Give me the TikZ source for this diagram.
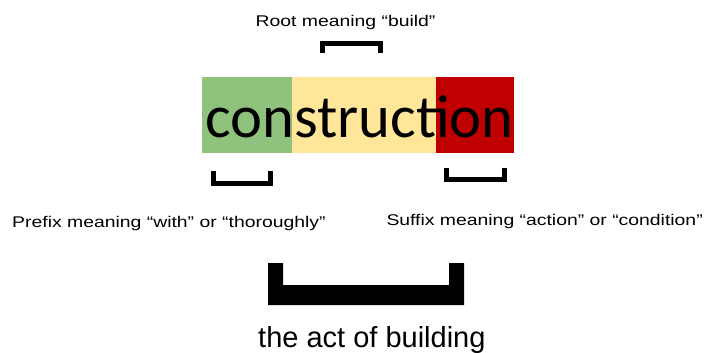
\documentclass[tikz,border=0pt]{standalone}
\usepackage{fontspec}
\setmainfont{Liberation Sans}
\newfontfamily\wordfont{Carlito}
\usetikzlibrary{positioning}
\definecolor{prefixgreen}{HTML}{8FC27C}
\definecolor{rootyellow}{HTML}{FFE699}
\definecolor{suffixred}{HTML}{C00000}
\tikzset{
  gloss/.style={font=\fontsize{15.5}{16}\selectfont, xscale=1.25, inner sep=0pt},
  brak/.style={line width=5pt, line join=miter},
}

\begin{document}
\begin{tikzpicture}[x=1pt, y=-1pt]
\useasboundingbox (0,0) rectangle (706,353);
% word parts
\fill[prefixgreen] (202,77) rectangle (292,153);
\fill[rootyellow]  (292,77) rectangle (436,153);
\fill[suffixred]   (436,77) rectangle (514,153);
\node[font=\wordfont\fontsize{60.6}{61}\selectfont, anchor=base west, inner sep=0pt] (word) at (205,137){construction};
% glosses
\node[gloss, anchor=base] (root) at (345.5,27){Root meaning “build”};
\node[gloss, anchor=base west] (prefix) at (12,227){Prefix meaning “with” or “thoroughly”};
\node[gloss, anchor=base east] (suffix) at (703,225){Suffix meaning “action” or “condition”};
\node[font=\fontsize{29}{31}\selectfont, anchor=base west, inner sep=0pt] (meaning) at (258,347){the act of building};
% brackets
\draw[brak] (322.5,53)--(322.5,43.5)--(380.5,43.5)--(380.5,53);
\draw[brak] (213.5,171)--(213.5,183.5)--(270.5,183.5)--(270.5,171);
\draw[brak] (446.5,168)--(446.5,179.5)--(504.5,179.5)--(504.5,168);
\fill (268,263)--(283,263)--(283,285)--(449,285)--(449,263)--(464,263)--(464,305)--(268,305)--cycle;
\end{tikzpicture}
\end{document}
